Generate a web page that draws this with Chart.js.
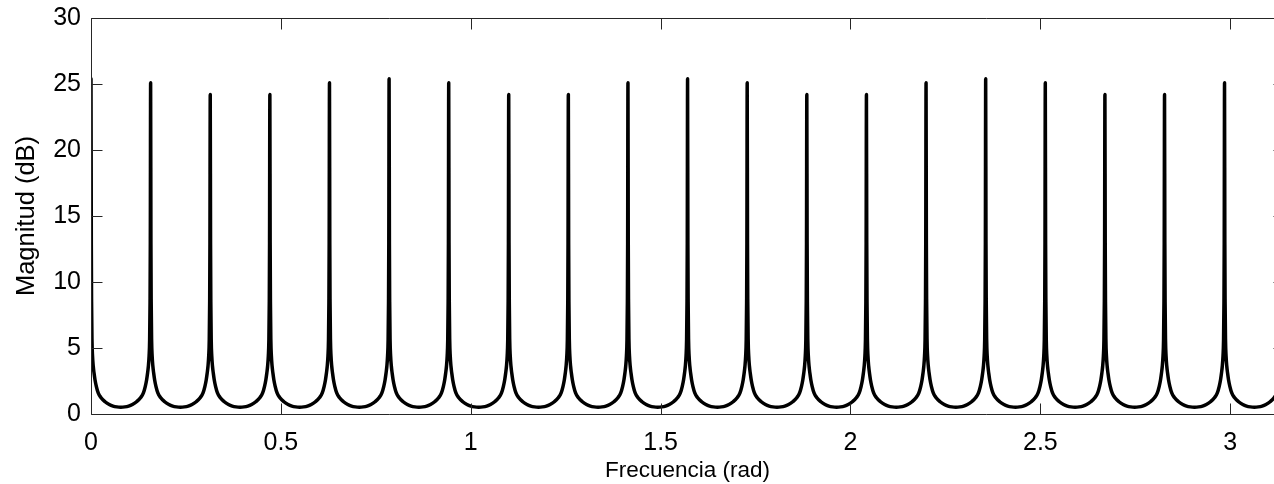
<!DOCTYPE html>
<html>
<head>
<meta charset="utf-8">
<script src="https://cdn.jsdelivr.net/npm/chart.js@4"></script>
<style>
  html, body { margin: 0; padding: 0; background: #fff; overflow: hidden; }
  #wrap { width: 1274px; height: 484px; overflow: hidden; position: relative; }
  #chart { position: absolute; left: 0; top: 0; }
</style>
</head>
<body>
<div id="wrap"><canvas id="chart" width="1300" height="484"></canvas></div>
<script>
// peaks of the comb response (rad, dB)
const peakFreq = [0, 0.157, 0.314, 0.471, 0.628, 0.785, 0.942, 1.100, 1.257, 1.414, 1.571,
                  1.728, 1.885, 2.042, 2.199, 2.356, 2.513, 2.670, 2.827, 2.985, 3.142];
const peakDb   = [25.4, 25.1, 24.2, 24.2, 25.1, 25.4, 25.1, 24.2, 24.2, 25.1, 25.4,
                  25.1, 24.2, 24.2, 25.1, 25.4, 25.1, 24.2, 24.2, 25.1, 25.4];

// one side of a lobe: distance from the peak (rad) and level (dB)
const lobeOffset = [0.0008, 0.0015, 0.0026, 0.004, 0.006, 0.008, 0.0105, 0.014, 0.019,
                    0.026, 0.037, 0.048, 0.058, 0.068, 0.0785];
const lobeDb     = [13, 8.5, 5.6, 4.4, 3.6, 3.1, 2.6, 2.1, 1.6, 1.25, 0.93, 0.72, 0.6, 0.54, 0.52];

const xTicks = [0, 0.5, 1, 1.5, 2, 2.5, 3];
const xTickLabels = ['0', '0.5', '1', '1.5', '2', '2.5', '3'];
const yTicks = [0, 5, 10, 15, 20, 25, 30];
const yTickLabels = ['0', '5', '10', '15', '20', '25', '30'];

// put the lobes around every peak into one point list
let points = [];
peakFreq.forEach((f, i) => {
  for (let j = lobeOffset.length - 1; j >= 0; j--) points.push({x: f - lobeOffset[j], y: lobeDb[j]});
  points.push({x: f, y: peakDb[i]});
  for (let j = 0; j < lobeOffset.length; j++) points.push({x: f + lobeOffset[j], y: lobeDb[j]});
});
points.sort((a, b) => a.x - b.x);

const FONT = "'Liberation Sans', Arial, Helvetica, sans-serif";

// MATLAB style box with inward ticks on all sides
const axesBox = {
  id: 'axesBox',
  afterDatasetsDraw(chart) {
    const {ctx, chartArea: a, scales: {x, y}} = chart;
    const L = Math.round(a.left) + 0.5, R = Math.round(a.right) + 0.5;
    const T = Math.round(a.top) + 0.5, B = Math.round(a.bottom) + 0.5;
    ctx.save();
    ctx.strokeStyle = '#262626';
    ctx.lineWidth = 1;
    ctx.beginPath();
    ctx.rect(L, T, R - L, B - T);
    xTicks.forEach(v => {
      const px = Math.round(x.getPixelForValue(v)) + 0.5;
      ctx.moveTo(px, B); ctx.lineTo(px, B - 11);
      ctx.moveTo(px, T); ctx.lineTo(px, T + 11);
    });
    yTicks.forEach(v => {
      const py = Math.round(y.getPixelForValue(v)) + 0.5;
      ctx.moveTo(L, py); ctx.lineTo(L + 11, py);
      ctx.moveTo(R, py); ctx.lineTo(R - 11, py);
    });
    ctx.stroke();
    ctx.restore();
  }
};

new Chart(document.getElementById('chart'), {
  type: 'line',
  data: {
    datasets: [{
      data: points,
      borderColor: '#000',
      borderWidth: 3.5,
      pointRadius: 0,
      fill: false,
      tension: 0,
      cubicInterpolationMode: 'monotone',
      borderJoinStyle: 'round',
      borderCapStyle: 'round'
    }]
  },
  options: {
    responsive: false,
    animation: false,
    events: [],
    layout: { padding: { left: 0, top: 18, right: 16, bottom: 0 } },
    plugins: { legend: { display: false }, tooltip: { enabled: false } },
    scales: {
      x: {
        type: 'linear',
        min: 0,
        max: Math.PI,
        grid: { display: false, drawTicks: false },
        border: { display: false },
        afterBuildTicks: s => { s.ticks = xTicks.map(v => ({value: v})); },
        afterFit: s => { s.height = 70; s.paddingLeft = 0; s.paddingRight = 0; },
        ticks: {
          autoSkip: false,
          maxRotation: 0,
          padding: 14,
          color: '#000',
          font: { family: FONT, size: 25 },
          callback: (v, i) => xTickLabels[i]
        },
        title: {
          display: true,
          text: 'Frecuencia (rad)',
          color: '#000',
          font: { family: FONT, size: 22.5 },
          padding: { top: 0, bottom: 0 }
        }
      },
      y: {
        type: 'linear',
        min: 0,
        max: 30,
        grid: { display: false, drawTicks: false },
        border: { display: false },
        afterBuildTicks: s => { s.ticks = yTicks.map(v => ({value: v})); },
        afterFit: s => { s.width = 91; s.paddingTop = 0; s.paddingBottom = 0; },
        ticks: {
          padding: 10,
          color: '#000',
          font: { family: FONT, size: 25 },
          callback: (v, i) => yTickLabels[i]
        },
        title: {
          display: true,
          text: 'Magnitud (dB)',
          color: '#000',
          font: { family: FONT, size: 25.5 },
          padding: { top: 12, bottom: 0 }
        }
      }
    }
  },
  plugins: [axesBox]
});
</script>
</body>
</html>
